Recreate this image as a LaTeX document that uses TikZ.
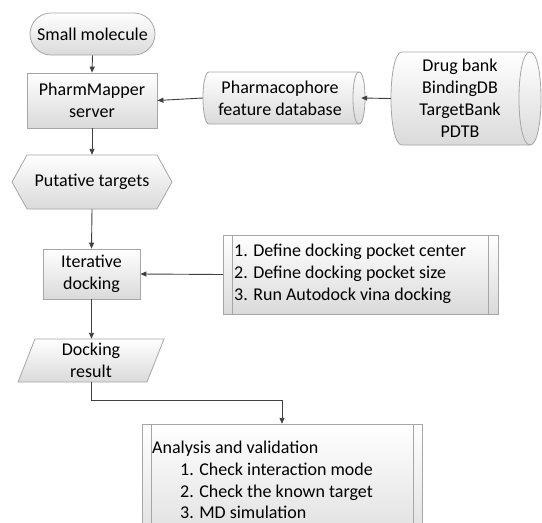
\documentclass[tikz,border=0pt]{standalone}
\usepackage{fontspec}
\setmainfont{Carlito}
\usetikzlibrary{arrows.meta}
\definecolor{bordergray}{HTML}{A6A6A6}
\definecolor{fillgray}{HTML}{DADADA}
\definecolor{arrowgray}{HTML}{404040}
\begin{document}
\begin{tikzpicture}[x=1pt,y=-1pt,
  font=\fontsize{18}{22}\selectfont,
  shp/.style={draw=bordergray, line width=0.8pt, top color=white, bottom color=fillgray},
  box/.style={shp, align=center, inner sep=0pt},
  ghost/.style={align=center, inner sep=0pt},
  arr/.style={draw=arrowgray, line width=0.9pt, -{Triangle[length=6pt,width=5pt]}}]
\useasboundingbox (0,0) rectangle (542,523);
\clip (0,0) rectangle (542,523);

% Small molecule
\node[box, rounded corners=21pt, minimum width=125pt, minimum height=42pt] (sm) at (92.5,34) {Small molecule};

% PharmMapper server
\node[box, minimum width=130pt, minimum height=55pt] (pm) at (92,100.5) {PharmMapper\\server};

% Pharmacophore feature database (cylinder)
\path[shp] (209,72) -- (359,72) .. controls (367,72) and (367,124) .. (359,124)
  -- (209,124) .. controls (201,124) and (201,72) .. (209,72) -- cycle;
\draw[bordergray, line width=0.8pt] (359,72) .. controls (351,72) and (351,124) .. (359,124);
\node[ghost, minimum width=162pt, minimum height=52pt] (ph) at (284,98) {\hspace*{-8pt}Pharmacophore\\\hspace*{-8pt}feature database};

% Drug bank cylinder
\path[shp] (402,52) -- (530,52) .. controls (544.7,52) and (544.7,145) .. (530,145)
  -- (402,145) .. controls (387.3,145) and (387.3,52) .. (402,52) -- cycle;
\draw[bordergray, line width=0.8pt] (530,52) .. controls (515.3,52) and (515.3,145) .. (530,145);
\node[ghost, minimum width=150pt, minimum height=93pt] (db) at (466,98.5) {\hspace*{-12pt}Drug bank\\\hspace*{-12pt}BindingDB\\\hspace*{-12pt}TargetBank\\\hspace*{-12pt}PDTB};

% Putative targets (hexagon)
\path[shp] (27,155) -- (157,155) -- (172,182) -- (157,209) -- (27,209) -- (12,182) -- cycle;
\node[ghost, minimum width=160pt, minimum height=54pt] (pt) at (92,182) {Putative targets};

% Iterative docking
\node[box, minimum width=97pt, minimum height=50pt] (it) at (91.5,274) {Iterative\\docking};

% Steps box
\path[shp] (223,235) rectangle (498,314);
\draw[bordergray, line width=0.8pt] (232,235) -- (232,314) (488,235) -- (488,314);
\node[ghost, minimum width=275pt, minimum height=79pt] (st) at (360.5,274.5) {};
\node[anchor=west, align=left, inner sep=0pt] (stt) at (234,274) {1. Define docking pocket center\\2. Define docking pocket size\\3. Run Autodock vina docking};

% Docking result (parallelogram)
\path[shp] (35,339) -- (164,339) -- (147,382) -- (18,382) -- cycle;
\node[ghost, minimum width=146pt, minimum height=43pt] (dr) at (91,360.5) {Docking\\result};

% Analysis and validation
\path[shp] (142,424) rectangle (422,560);
\draw[bordergray, line width=0.8pt] (151,424) -- (151,560) (413,424) -- (413,560);
\node[ghost, minimum width=280pt, minimum height=136pt] (av) at (282,492) {};
\node[anchor=north west, align=left, inner sep=0pt, font=\fontsize{18}{21.7}\selectfont] (avt) at (152,441)
  {Analysis and validation\\\hspace*{28pt}1. Check interaction mode\\\hspace*{28pt}2. Check the known target\\\hspace*{28pt}3. MD simulation};

% connectors
\draw[arr] (sm.south) -- (pm.north);
\draw[arr] (ph.west) -- (pm.east);
\draw[arr] (db.west) -- ([xshift=-4pt]ph.east);
\draw[arr] (pm.south) -- (pt.north);
\draw[arr] (pt.south) -- (it.north);
\draw[arr] (st.west) -- (it.east);
\draw[arr] (it.south) -- (it.south |- dr.north);
\draw[arr] (it.south |- dr.south) -- ++(0,18) -| (av.north);
\end{tikzpicture}
\end{document}
